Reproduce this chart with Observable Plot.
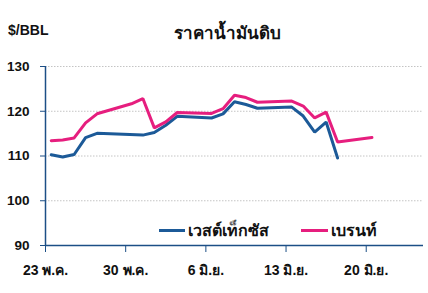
<!DOCTYPE html>
<html><head><meta charset="utf-8">
<script src="https://cdn.jsdelivr.net/npm/d3@7"></script>
<script src="https://cdn.jsdelivr.net/npm/@observablehq/plot@0.6"></script>
<style>
body{margin:0;background:#fff;font-family:Arial,"Liberation Sans",sans-serif;}
#wrap{position:relative;width:428px;height:293px;}
.t{position:absolute;font-weight:bold;color:#111;white-space:nowrap;}
.sw{position:absolute;height:3px;}
</style></head>
<body><div id="wrap"></div>
<script>
const title = "ราคาน้ำมันดิบ";
const unit = "$/BBL";
const seriesNames = ["เวสต์เท็กซัส", "เบรนท์"];
const colors = ["#1c5a98", "#e61e7e"];
const wtiDates = ["2022-05-23","2022-05-24","2022-05-25","2022-05-26","2022-05-27","2022-05-31","2022-06-01","2022-06-02","2022-06-03","2022-06-06","2022-06-07","2022-06-08","2022-06-09","2022-06-10","2022-06-13","2022-06-14","2022-06-15","2022-06-16","2022-06-17"];
const wtiValues = [110.29,109.77,110.33,114.09,115.07,114.67,115.26,116.87,118.87,118.50,119.41,122.11,121.51,120.67,120.93,118.93,115.31,117.59,109.56];
const brentDates = ["2022-05-23","2022-05-24","2022-05-25","2022-05-26","2022-05-27","2022-05-30","2022-05-31","2022-06-01","2022-06-02","2022-06-03","2022-06-06","2022-06-07","2022-06-08","2022-06-09","2022-06-10","2022-06-13","2022-06-14","2022-06-15","2022-06-16","2022-06-17","2022-06-20"];
const brentValues = [113.42,113.56,114.03,117.40,119.43,121.67,122.84,116.29,117.61,119.72,119.51,120.57,123.58,123.07,122.01,122.27,121.17,118.51,119.81,113.12,114.13];
const yTicks = [90,100,110,120,130];
const xTickDates = ["2022-05-23","2022-05-30","2022-06-06","2022-06-13","2022-06-20"];
const xTickLabels = ["23 พ.ค.","30 พ.ค.","6 มิ.ย.","13 มิ.ย.","20 มิ.ย."];

const HALF = 12*3600*1000;
const mk = (dates, vals, s) => dates.map((d,i)=>({date:new Date(Date.parse(d+"T00:00:00Z")+HALF), value:vals[i], series:s}));
const data = [...mk(wtiDates, wtiValues, seriesNames[0]), ...mk(brentDates, brentValues, seriesNames[1])];
const xt = xTickDates.map(d=>new Date(d+"T00:00:00Z"));
const axisColor = "#1c4f86";

const chart = Plot.plot({
  width:428, height:293,
  marginLeft:45, marginRight:5, marginTop:66, marginBottom:48,
  style:{fontFamily:"Arial, 'Liberation Sans', sans-serif", fontSize:"13px", fontWeight:"bold", color:"#111", background:"#fff"},
  x:{type:"utc", domain:[new Date("2022-05-23T00:00:00Z"), new Date("2022-06-25T00:00:00Z")]},
  y:{domain:[90,130]},
  color:{domain:seriesNames, range:colors},
  marks:[
    Plot.gridY(yTicks.filter(v=>v>90), {stroke:"#c4c4c4", strokeOpacity:1, strokeDasharray:"1.5,1.5", strokeWidth:1}),
    Plot.axisY({ticks:yTicks, tickSize:5, tickPadding:11, stroke:axisColor, label:null, fill:"#111", fontSize:13.5}),
    Plot.axisX({ticks:xt, tickSize:7, tickPadding:13, stroke:axisColor, label:null, tickFormat:(d)=>xTickLabels[xt.findIndex(t=>+t===+d)], fill:"#111", fontSize:14}),
    Plot.ruleX([new Date("2022-05-23T00:00:00Z")], {stroke:axisColor, strokeWidth:1.5}),
    Plot.ruleY([90], {stroke:axisColor, strokeWidth:1.5}),
    Plot.line(data, {x:"date", y:"value", z:"series", stroke:"series", strokeWidth:3, strokeLinejoin:"miter", curve:"linear"})
  ]
});
const wrap = document.getElementById("wrap");
chart.style.position="absolute"; chart.style.left="0"; chart.style.top="0";
wrap.appendChild(chart);
function addText(txt, left, top, size){const d=document.createElement("div");d.className="t";d.textContent=txt;d.style.left=left+"px";d.style.top=top+"px";d.style.fontSize=size+"px";wrap.appendChild(d);return d;}
addText(unit, 8, 22, 14);
const tt = addText(title, 0, 19, 17); tt.style.left="0"; tt.style.width="428px"; tt.style.textAlign="center"; tt.style.paddingLeft="27px"; tt.style.boxSizing="border-box";
function addSwatch(color,left,top,w){const s=document.createElement("div");s.className="sw";s.style.background=color;s.style.left=left+"px";s.style.top=top+"px";s.style.width=w+"px";wrap.appendChild(s);}
addSwatch(colors[0],159,229,26); addText(seriesNames[0],188,218,16);
addSwatch(colors[1],301,229,27); addText(seriesNames[1],331,218,16);
</script></body></html>
